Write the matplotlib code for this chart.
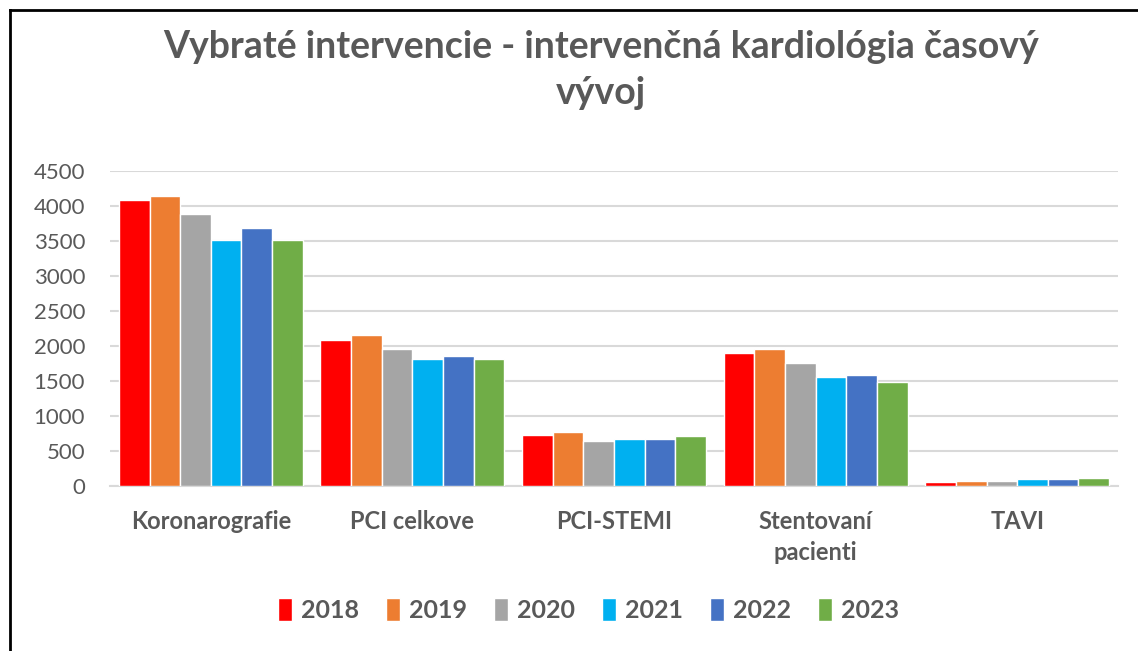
import matplotlib.pyplot as plt
import numpy as np
from matplotlib.lines import Line2D

# chart data
categories = ["Koronarografie", "PCI celkove", "PCI-STEMI", "Stentovaní\npacienti", "TAVI"]
years = ["2018", "2019", "2020", "2021", "2022", "2023"]
v2018 = [4080, 2080, 735, 1900, 53]
v2019 = [4140, 2160, 775, 1960, 72]
v2020 = [3880, 1950, 640, 1750, 70]
v2021 = [3520, 1810, 678, 1555, 96]
v2022 = [3680, 1850, 678, 1580, 96]
v2023 = [3520, 1820, 707, 1480, 110]
series = [v2018, v2019, v2020, v2021, v2022, v2023]
colors = ["#FF0000", "#ED7D31", "#A5A5A5", "#00B0F0", "#4472C4", "#70AD47"]

plt.rcParams['font.family'] = ['Lato', 'DejaVu Sans']
txt = "#595959"

fig = plt.figure(figsize=(11.38, 6.51), dpi=100)
ax = fig.add_axes([0.0967, 0.2535, 0.8857, 0.4838])

x = np.arange(len(categories))
w = 0.152
for i, vals in enumerate(series):
	ax.bar(x + (i - 2.5) * w, vals, w, color=colors[i], edgecolor="white",
		linewidth=1, label=years[i], zorder=3)

ax.set_xlim(-0.5, len(categories) - 0.5)
ax.set_ylim(0, 4500)
ax.set_yticks(np.arange(0, 4501, 500))
ax.yaxis.grid(True, color="#d9d9d9", linewidth=1.5, zorder=0)
ax.set_axisbelow(True)
for s in ["top", "right", "left"]:
	ax.spines[s].set_visible(False)
ax.spines["bottom"].set_color("#d9d9d9")
ax.spines["bottom"].set_linewidth(1.5)
ax.tick_params(axis="y", length=0, pad=18, labelsize=16, labelcolor=txt)
ax.tick_params(axis="x", length=0, pad=17)
ax.set_xticks(x)
ax.set_xticklabels(categories, fontsize=17, fontweight="bold", color=txt,
	linespacing=1.45, va="top")

fig.text(0.528, 0.892, "Vybraté intervencie - intervenčná kardiológia časový\nvývoj",
	ha="center", va="center", fontsize=27, fontweight="bold", color=txt, linespacing=1.42)

fig.legend(loc="center", bbox_to_anchor=(0.517, 1 - 610 / 651), ncol=6, frameon=False,
	prop={"size": 18, "weight": "bold"}, labelcolor=txt, handlelength=0.55,
	handleheight=1.0, handletextpad=0.35, columnspacing=1.1)

# frame lines on the left and top
fig.add_artist(Line2D([10 / 1138, 1], [1 - 10 / 651, 1 - 10 / 651], color="black", linewidth=2))
fig.add_artist(Line2D([10 / 1138, 10 / 1138], [0, 1 - 10 / 651], color="black", linewidth=2))

fig.savefig("out.png", dpi=100)
